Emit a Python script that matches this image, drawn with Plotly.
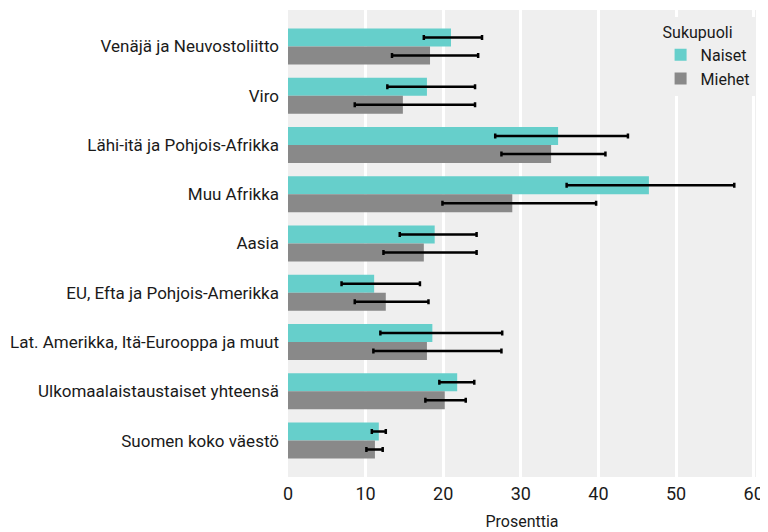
import plotly.graph_objects as go

categories = [
    "Venäjä ja Neuvostoliitto",
    "Viro",
    "Lähi-itä ja Pohjois-Afrikka",
    "Muu Afrikka",
    "Aasia",
    "EU, Efta ja Pohjois-Amerikka",
    "Lat. Amerikka, Itä-Eurooppa ja muut",
    "Ulkomaalaistaustaiset yhteensä",
    "Suomen koko väestö",
]

naiset = [21.0, 17.9, 34.8, 46.5, 18.9, 11.1, 18.6, 21.8, 11.7]
naiset_low = [17.5, 12.8, 26.7, 35.9, 14.4, 6.9, 11.9, 19.5, 10.8]
naiset_high = [25.0, 24.1, 43.8, 57.5, 24.3, 17.0, 27.6, 24.0, 12.6]

miehet = [18.3, 14.8, 33.9, 28.9, 17.5, 12.6, 17.9, 20.2, 11.2]
miehet_low = [13.4, 8.6, 27.5, 19.9, 12.3, 8.6, 11.0, 17.7, 10.1]
miehet_high = [24.5, 24.1, 40.9, 39.7, 24.3, 18.1, 27.5, 22.9, 12.2]

x_ticks = [0, 10, 20, 30, 40, 50, 60]

FONT = "Roboto, Arial, sans-serif"


def err(vals, lo, hi, color):
    return dict(
        type="data",
        symmetric=False,
        array=[h - v for v, h in zip(vals, hi)],
        arrayminus=[v - l for v, l in zip(vals, lo)],
        color=color,
        thickness=2.5,
        width=2.5,
    )


fig = go.Figure()
fig.add_trace(go.Bar(
    y=categories, x=naiset, orientation="h", name="Naiset",
    marker=dict(color="#66cfcb", line=dict(width=0)),
    error_x=err(naiset, naiset_low, naiset_high, "#000000"),
))
fig.add_trace(go.Bar(
    y=categories, x=miehet, orientation="h", name="Miehet",
    marker=dict(color="#898989", line=dict(width=0)),
    error_x=err(miehet, miehet_low, miehet_high, "#000000"),
))

fig.update_layout(
    width=760, height=524,
    barmode="group", bargap=0.27, bargroupgap=0,
    plot_bgcolor="#efefef", paper_bgcolor="#ffffff",
    margin=dict(l=280, r=12, t=2, b=55),
    font=dict(family=FONT, size=16, color="#1a1a1a"),
    legend=dict(
        title=dict(text="Sukupuoli", font=dict(size=16, color="#1a1a1a")),
        x=0.997, y=0.985, xanchor="right", yanchor="top",
        bgcolor="#efefef", font=dict(size=16),
        tracegroupgap=0, itemwidth=30,
    ),
    xaxis=dict(
        range=[0, 60.3], tickvals=x_ticks, ticks="", showline=False,
        gridcolor="#ffffff", gridwidth=2.5, zeroline=False,
        title=dict(text="Prosenttia", standoff=12, font=dict(size=16)),
        tickfont=dict(size=18), fixedrange=True, automargin=False,
        ticklabelstandoff=4,
    ),
    yaxis=dict(
        categoryorder="array", categoryarray=categories,
        range=[8.74, -0.74], showgrid=False, ticks="", zeroline=False,
        tickfont=dict(size=17), ticklabelstandoff=8, automargin=False,
    ),
)

fig.write_html("out.html")
